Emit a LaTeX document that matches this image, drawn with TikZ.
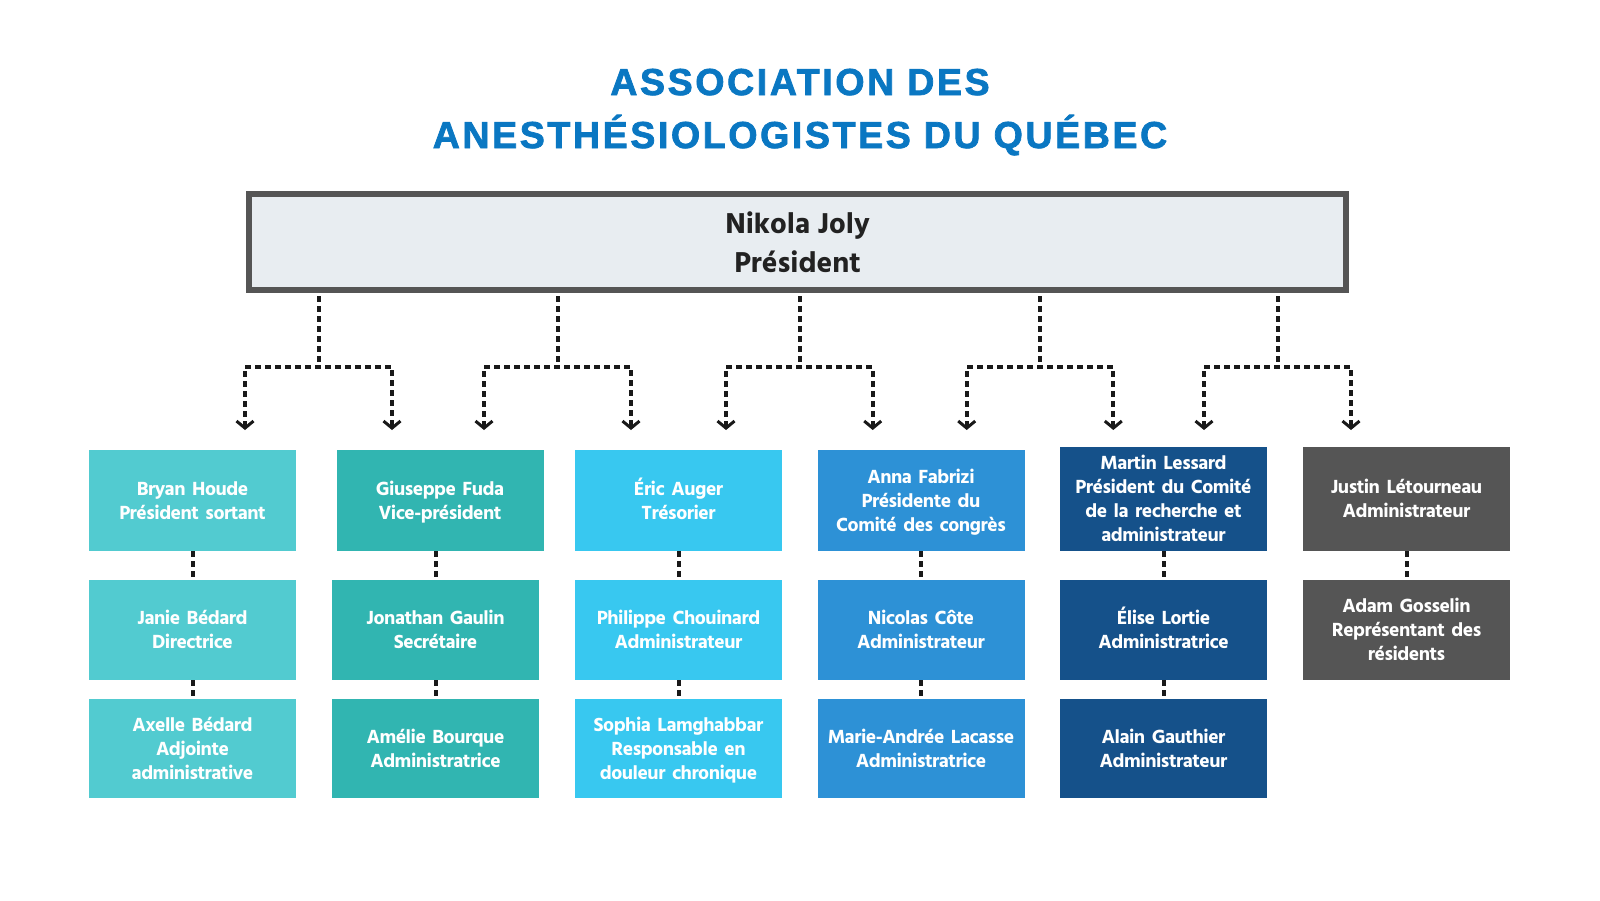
\documentclass[tikz,border=0pt]{standalone}
\usepackage{fontspec}
\setmainfont{Liberation Sans}
\newfontfamily\hind{Hind Siliguri Bold}[LetterSpace=-2.5,WordSpace=0.7]
\newfontfamily\hindbold{Hind Siliguri Bold}
\newfontfamily\titlef{Liberation Sans Bold}[LetterSpace=7,FakeBold=2]
\usetikzlibrary{arrows.meta}
\definecolor{c1}{HTML}{52CBD0}
\definecolor{c2}{HTML}{31B5B1}
\definecolor{c3}{HTML}{38C8F0}
\definecolor{c4}{HTML}{2D91D6}
\definecolor{c5}{HTML}{15518A}
\definecolor{c6}{HTML}{555555}
\definecolor{topfill}{HTML}{E8EDF1}
\definecolor{topborder}{HTML}{555555}
\definecolor{textdark}{HTML}{222222}
\definecolor{titleblue}{HTML}{0A77C2}
\tikzset{
  member/.style={rectangle, minimum width=207pt, minimum height=100pt, inner sep=0pt,
    text=white, align=center, text width=205pt, font=\hind\fontsize{19.5}{24}\selectfont,
    execute at begin node={\vphantom{É}}, execute at end node={\vphantom{gp}}},
  titletext/.style={inner sep=0pt, anchor=base, text=titleblue, font=\titlef\fontsize{37.5}{40}\selectfont},
  dotline/.style={line width=4pt, dash pattern=on 6pt off 4pt, draw=black!90},
  chev/.tip={Straight Barb[length=7pt,width=17pt,line width=3pt]},
}
\begin{document}
\begin{tikzpicture}[x=1pt,y=-1pt]
\useasboundingbox (0,0) rectangle (1600,900);
\fill[white] (0,0) rectangle (1600,900);

% title
\node[titletext] (t1) at (800,95) {ASSOCIATION DES};
\node[titletext] (t2) at (800,148) {ANESTHÉSIOLOGISTES DU QUÉBEC};

% president
\node[draw=topborder, line width=6pt, fill=topfill, minimum width=1097pt, minimum height=96pt,
      inner sep=0pt, align=center, text=textdark, font=\hindbold\fontsize{29.5}{39.5}\selectfont]
      (top) at (797.5,242) {Nikola Joly\\Président};

% members
\node[member,fill=c1,minimum height=101pt] (b11) at (192.5,500.5) {Bryan Houde\\Président sortant};
\node[member,fill=c1] (b12) at (192.5,630) {Janie Bédard\\Directrice};
\node[member,fill=c1,minimum height=99pt] (b13) at (192.5,748.5) {Axelle Bédard\\Adjointe\\administrative};

\node[member,fill=c2,minimum height=101pt] (b21) at (440,500.5) {Giuseppe Fuda\\Vice-président};
\node[member,fill=c2] (b22) at (435.5,630) {Jonathan Gaulin\\Secrétaire};
\node[member,fill=c2,minimum height=99pt] (b23) at (435.5,748.5) {Amélie Bourque\\Administratrice};

\node[member,fill=c3,minimum height=101pt] (b31) at (678.5,500.5) {Éric Auger\\Trésorier};
\node[member,fill=c3] (b32) at (678.5,630) {Philippe Chouinard\\Administrateur};
\node[member,fill=c3,minimum height=99pt] (b33) at (678.5,748.5) {Sophia Lamghabbar\\Responsable en\\douleur chronique};

\node[member,fill=c4,minimum height=101pt] (b41) at (921,500.5) {Anna Fabrizi\\Présidente du\\Comité des congrès};
\node[member,fill=c4] (b42) at (921,630) {Nicolas Côte\\Administrateur};
\node[member,fill=c4,minimum height=99pt] (b43) at (921,748.5) {Marie-Andrée Lacasse\\Administratrice};

\node[member,fill=c5,minimum height=104pt] (b51) at (1163.5,499) {Martin Lessard\\Président du Comité\\de la recherche et\\administrateur};
\node[member,fill=c5] (b52) at (1163.5,630) {Élise Lortie\\Administratrice};
\node[member,fill=c5,minimum height=99pt] (b53) at (1163.5,748.5) {Alain Gauthier\\Administrateur};

\node[member,fill=c6,minimum height=104pt] (b61) at (1406.5,499) {Justin Létourneau\\Administrateur};
\node[member,fill=c6] (b62) at (1406.5,630) {Adam Gosselin\\Représentant des\\résidents};

% branch coordinates
\coordinate (j1) at (319,367);
\coordinate (j2) at (558.3,367);
\coordinate (j3) at (800,367);
\coordinate (j4) at (1040,367);
\coordinate (j5) at (1277.7,367);
\coordinate (a11) at (245,430);   \coordinate (a12) at (392,430);
\coordinate (a21) at (484,430);   \coordinate (a22) at (631,430);
\coordinate (a31) at (726,430);   \coordinate (a32) at (872.7,430);
\coordinate (a41) at (966.7,430); \coordinate (a42) at (1113.3,430);
\coordinate (a51) at (1204,430);  \coordinate (a52) at (1351,430);

\foreach \j in {1,...,5}{
  \draw[dotline, shorten <=3pt] (top.south -| j\j) -- (j\j);
  \draw[dotline, chev-chev] (a\j1) |- (j\j) -| (a\j2);
}

% vertical links
\draw[dotline] (b11.south) -- (b12.north);
\draw[dotline] (b12.south) -- (b13.north);
\draw[dotline] (b21.south -| b22.north) -- (b22.north);
\draw[dotline] (b22.south) -- (b23.north);
\draw[dotline] (b31.south) -- (b32.north);
\draw[dotline] (b32.south) -- (b33.north);
\draw[dotline] (b41.south) -- (b42.north);
\draw[dotline] (b42.south) -- (b43.north);
\draw[dotline] (b51.south) -- (b52.north);
\draw[dotline] (b52.south) -- (b53.north);
\draw[dotline] (b61.south) -- (b62.north);
\end{tikzpicture}
\end{document}
